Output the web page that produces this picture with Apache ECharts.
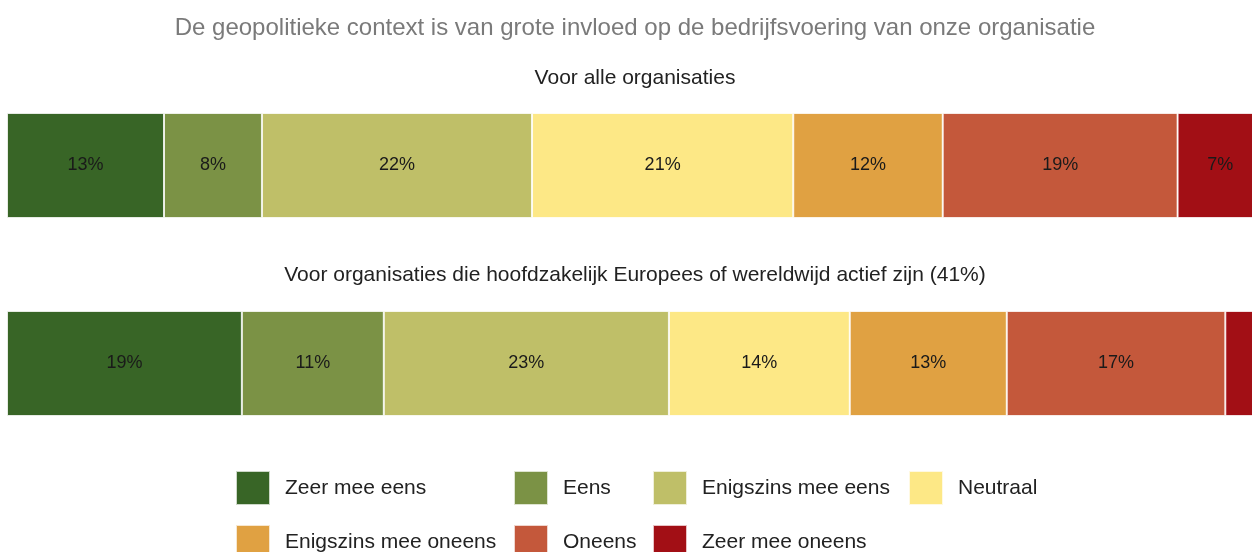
<!DOCTYPE html>
<html>
<head>
<meta charset="utf-8">
<script src="https://cdn.jsdelivr.net/npm/echarts@6/dist/echarts.min.js"></script>
<style>
  html, body { margin: 0; padding: 0; background: #fff; overflow: hidden; }
  #main { width: 1270px; height: 620px; }
</style>
</head>
<body>
<div id="main"></div>
<script>
// antwoordcategorieen en kleuren
const categories = ['Zeer mee eens', 'Eens', 'Enigszins mee eens', 'Neutraal', 'Enigszins mee oneens', 'Oneens', 'Zeer mee oneens'];
const colors = ['#386526', '#7b9245', '#bfbf68', '#fde886', '#e0a142', '#c4583b', '#a20f15'];

// aandelen in procenten (geschat uit de grafiek)
const alleOrganisaties = [12.5, 7.8, 21.5, 20.8, 11.9, 18.7, 6.8];
const europeesWereldwijd = [18.7, 11.3, 22.7, 14.4, 12.5, 17.4, 3.0];

const titleText = 'De geopolitieke context is van grote invloed op de bedrijfsvoering van onze organisatie';
const subtitles = ['Voor alle organisaties', 'Voor organisaties die hoofdzakelijk Europees of wereldwijd actief zijn (41%)'];

const chart = echarts.init(document.getElementById('main'));

function makeSeries(values, idx, stack) {
  return categories.map((name, i) => ({
    name: name,
    type: 'bar',
    stack: stack,
    xAxisIndex: idx,
    yAxisIndex: idx,
    barWidth: '100%',
    data: [values[i]],
    itemStyle: { color: colors[i], borderColor: 'rgba(255,255,255,0.75)', borderWidth: 1 },
    label: {
      show: true,
      position: 'inside',
      color: '#1a1a1a',
      fontSize: 18,
      fontFamily: 'Liberation Sans',
      formatter: p => p.value < 5 ? '' : Math.round(p.value) + '%'
    },
    emphasis: { disabled: true }
  }));
}

// legenda in kolommen, zoals in het origineel
function legendCol(items, left) {
  return {
    orient: 'vertical',
    left: left,
    top: 470,
    padding: 0,
    itemWidth: 34,
    itemHeight: 34,
    itemGap: 18,
    icon: 'rect',
    data: items,
    textStyle: { fontSize: 21, color: '#222', fontFamily: 'Liberation Sans', padding: [0, 0, 0, 10] }
  };
}

const option = {
  animation: false,
  color: colors,
  title: [
    { text: titleText, left: 'center', top: 11, textStyle: { fontSize: 24, fontWeight: 'normal', color: '#7a7a7a', fontFamily: 'Liberation Sans' } },
    { text: subtitles[0], left: 'center', top: 63, textStyle: { fontSize: 21, fontWeight: 'normal', color: '#222', fontFamily: 'Liberation Sans' } },
    { text: subtitles[1], left: 'center', top: 260, textStyle: { fontSize: 21, fontWeight: 'normal', color: '#222', fontFamily: 'Liberation Sans' } }
  ],
  legend: [
    legendCol([categories[0], categories[4]], 235),
    legendCol([categories[1], categories[5]], 513),
    legendCol([categories[2], categories[6]], 652),
    legendCol([categories[3]], 908)
  ],
  grid: [
    { left: 7, right: 7, top: 113, height: 105 },
    { left: 7, right: 7, top: 311, height: 105 }
  ],
  xAxis: [
    { type: 'value', gridIndex: 0, min: 0, max: 100, show: false },
    { type: 'value', gridIndex: 1, min: 0, max: 100, show: false }
  ],
  yAxis: [
    { type: 'category', gridIndex: 0, data: ['alle'], show: false },
    { type: 'category', gridIndex: 1, data: ['europa'], show: false }
  ],
  series: makeSeries(alleOrganisaties, 0, 'alle').concat(makeSeries(europeesWereldwijd, 1, 'europa'))
};

chart.setOption(option);
</script>
</body>
</html>
